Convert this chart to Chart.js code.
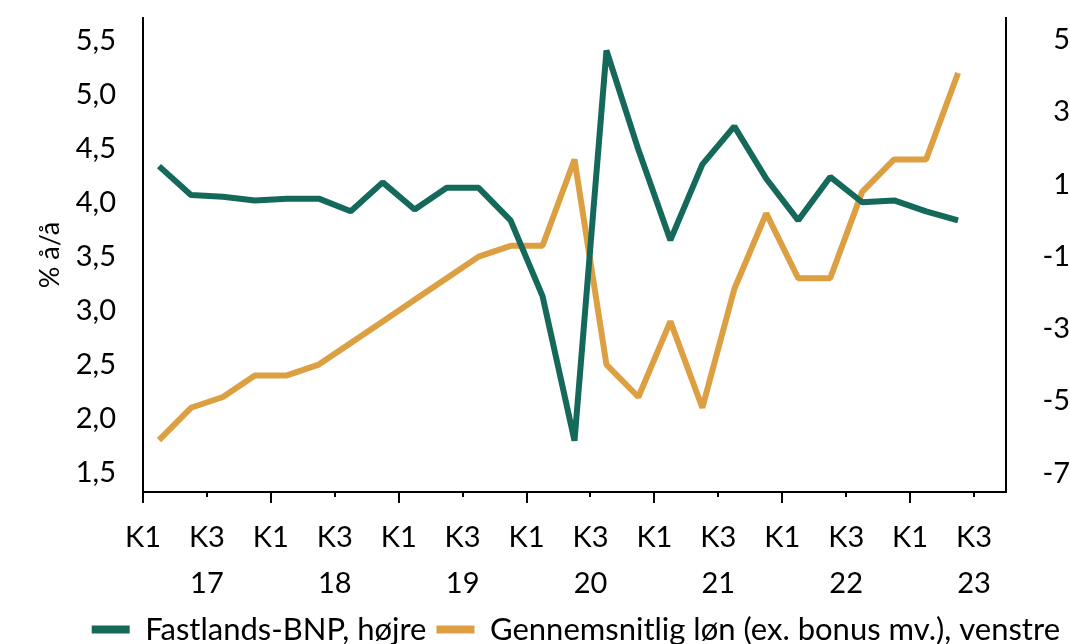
<!DOCTYPE html>
<html>
<head>
<meta charset="utf-8">
<script src="https://cdn.jsdelivr.net/npm/chart.js@4/dist/chart.umd.min.js"></script>
<style>
body { margin: 0; background: #fff; }
#wrap { width: 1070px; height: 644px; }
</style>
</head>
<body>
<div id="wrap"><canvas id="chart"></canvas></div>
<script>
// quarters 2017 K1 - 2023 K2
const quarters = [
    '17K1', '17K2', '17K3', '17K4', '18K1', '18K2', '18K3', '18K4',
    '19K1', '19K2', '19K3', '19K4', '20K1', '20K2', '20K3', '20K4',
    '21K1', '21K2', '21K3', '21K4', '22K1', '22K2', '22K3', '22K4',
    '23K1', '23K2'
];
// Fastlands-BNP, % å/å (right axis)
const bnp = [
    1.5, 0.7, 0.65, 0.55, 0.6, 0.6, 0.25, 1.05,
    0.3, 0.9, 0.9, 0.0, -2.1, -6.1, 4.7, 1.95,
    -0.55, 1.55, 2.6, 1.15, 0.0, 1.2, 0.5, 0.55,
    0.25, 0.0
];
// Gennemsnitlig løn, % å/å (left axis)
const lon = [
    1.8, 2.1, 2.2, 2.4, 2.4, 2.5, 2.7, 2.9,
    3.1, 3.3, 3.5, 3.6, 3.6, 4.4, 2.5, 2.2,
    2.9, 2.1, 3.2, 3.9, 3.3, 3.3, 4.1, 4.4,
    4.4, 5.2
];
// one label every second quarter, year under K3
const tickLabels = [
    'K1', ['K3', '17'], 'K1', ['K3', '18'], 'K1', ['K3', '19'], 'K1',
    ['K3', '20'], 'K1', ['K3', '21'], 'K1', ['K3', '22'], 'K1', ['K3', '23']
];
const leftTicks = [1.5, 2.0, 2.5, 3.0, 3.5, 4.0, 4.5, 5.0, 5.5];
const rightTicks = [-7, -5, -3, -1, 1, 3, 5];

const green = '#15695a';
const orange = '#dca042';
const fontFamily = 'Lato, "Noto Sans", sans-serif';

// small ticks below the x axis: long at K1, short at K3
const tickMarks = {
    id: 'tickMarks',
    afterDraw(chart) {
        const xs = chart.scales.x;
        const ctx = chart.ctx;
        const y0 = chart.chartArea.bottom;
        ctx.save();
        ctx.strokeStyle = '#000';
        ctx.lineWidth = 2;
        tickLabels.forEach((t, i) => {
            const px = Math.round(xs.getPixelForValue(i * 2));
            const len = i % 2 === 0 ? 11 : 5;
            ctx.beginPath();
            ctx.moveTo(px, y0);
            ctx.lineTo(px, y0 + len);
            ctx.stroke();
        });
        ctx.restore();
    }
};

// y axes: fixed width, and no extra room for half labels at top/bottom
const fitY = (w) => (scale) => {
    scale.width = w;
    scale.paddingTop = 0;
    scale.paddingBottom = 0;
};

const ctx = document.getElementById('chart').getContext('2d');
new Chart(ctx, {
    type: 'line',
    data: {
        datasets: [{
            label: 'Fastlands-BNP, højre',
            data: bnp.map((v, i) => ({ x: i + 0.5, y: v })),
            yAxisID: 'y2',
            borderColor: green,
            backgroundColor: green,
            borderWidth: 6,
            borderJoinStyle: 'bevel',
            pointRadius: 0,
            tension: 0
        }, {
            label: 'Gennemsnitlig løn (ex. bonus mv.), venstre',
            data: lon.map((v, i) => ({ x: i + 0.5, y: v })),
            yAxisID: 'y',
            borderColor: orange,
            backgroundColor: orange,
            borderWidth: 6,
            borderJoinStyle: 'bevel',
            pointRadius: 0,
            tension: 0
        }]
    },
    options: {
        responsive: true,
        maintainAspectRatio: false,
        animation: false,
        layout: { padding: { top: 18, left: 0, right: 0, bottom: -11 } },
        plugins: {
            tooltip: { enabled: false },
            legend: {
                position: 'bottom',
                align: 'end',
                labels: {
                    color: '#000',
                    boxWidth: 38,
                    boxHeight: 8,
                    padding: 10,
                    font: { family: fontFamily, size: 31, lineHeight: 1 },
                    // flat boxes, no border stroke
                    generateLabels: (chart) => {
                        const items = Chart.defaults.plugins.legend.labels.generateLabels(chart);
                        items.forEach(it => { it.lineWidth = 0; it.strokeStyle = 'transparent'; });
                        return items;
                    }
                }
            }
        },
        scales: {
            x: {
                type: 'linear',
                min: 0,
                max: 27,
                grid: { display: false, drawTicks: false },
                border: { display: true, color: '#000', width: 2 },
                afterBuildTicks: (axis) => {
                    axis.ticks = tickLabels.map((t, i) => ({ value: i * 2 }));
                },
                afterFit: (scale) => { scale.height = 112; },
                ticks: {
                    autoSkip: false,
                    maxRotation: 0,
                    padding: 22,
                    color: '#000',
                    font: { family: fontFamily, size: 29, lineHeight: 1.6 },
                    callback: (v, i) => tickLabels[i]
                }
            },
            y: {
                position: 'left',
                min: 1.32,
                max: 5.71,
                grid: { display: false, drawTicks: false },
                border: { display: true, color: '#000', width: 2 },
                afterBuildTicks: (axis) => {
                    axis.ticks = leftTicks.map(v => ({ value: v }));
                },
                afterFit: fitY(143),
                title: {
                    display: true,
                    text: '% å/å',
                    color: '#000',
                    padding: { top: 34, bottom: 0 },
                    font: { family: fontFamily, size: 27 }
                },
                ticks: {
                    padding: 27,
                    color: '#000',
                    font: { family: fontFamily, size: 29 },
                    callback: (v) => v.toFixed(1).replace('.', ',')
                }
            },
            y2: {
                position: 'right',
                min: -7.52,
                max: 5.6,
                grid: { display: false, drawTicks: false },
                border: { display: true, color: '#000', width: 2 },
                afterBuildTicks: (axis) => {
                    axis.ticks = rightTicks.map(v => ({ value: v }));
                },
                afterFit: fitY(64),
                ticks: {
                    padding: 28,
                    crossAlign: 'far',
                    color: '#000',
                    font: { family: fontFamily, size: 29 },
                    callback: (v) => String(v)
                }
            }
        }
    },
    plugins: [tickMarks]
});
</script>
</body>
</html>
